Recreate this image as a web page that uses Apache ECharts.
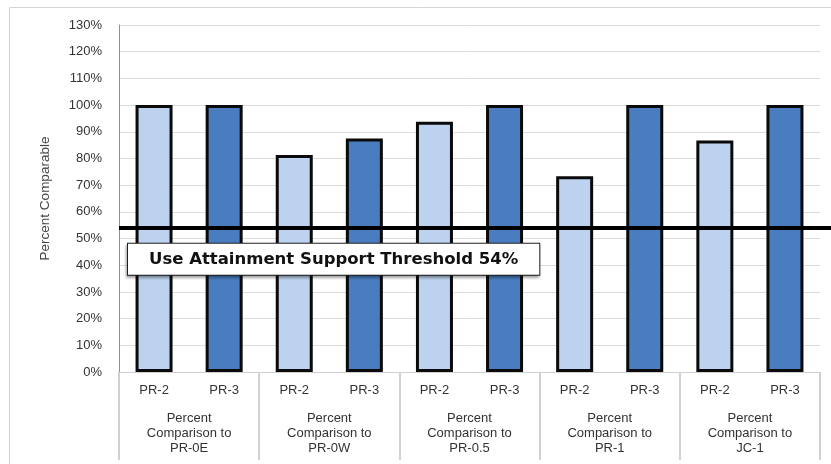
<!DOCTYPE html>
<html>
<head>
<meta charset="utf-8">
<script src="https://cdn.jsdelivr.net/npm/echarts@6/dist/echarts.min.js"></script>
<style>
  html, body { margin: 0; padding: 0; background: #fff; }
  #chart { width: 831px; height: 464px; }
</style>
</head>
<body>
<div id="chart"></div>
<script>
// Sub-categories (one bar each) and their comparison groups
const sites = ['PR-2', 'PR-3', 'PR-2', 'PR-3', 'PR-2', 'PR-3', 'PR-2', 'PR-3', 'PR-2', 'PR-3'];
const groups = [
  'Percent\nComparison to\nPR-0E',
  'Percent\nComparison to\nPR-0W',
  'Percent\nComparison to\nPR-0.5',
  'Percent\nComparison to\nPR-1',
  'Percent\nComparison to\nJC-1'
];
// Percent comparable per bar, in the same order as `sites`
const percentComparable = [100, 100, 81.3, 87.5, 93.8, 100, 73.3, 100, 86.7, 100];
const threshold = 54;
const yTicks = { min: 0, max: 130, step: 10 };

const colorPR2 = '#bcd2ee';
const colorPR3 = '#4a7dbf';

const chart = echarts.init(document.getElementById('chart'), null, { renderer: 'canvas' });

const font = 'Liberation Sans, Arial, sans-serif';

chart.setOption({
  animation: false,
  graphic: [{
    type: 'rect',
    shape: { x: 9.5, y: 7.5, width: 900, height: 600 },
    style: { fill: 'none', stroke: '#d4d4d4', lineWidth: 1 },
    silent: true
  }],
  grid: [
    { left: 119, right: 11, top: 25, bottom: 92 },
    { left: 119, right: 0, top: 25, bottom: 92 }
  ],
  xAxis: [
    {
      type: 'category', gridIndex: 0, data: sites,
      axisLine: { lineStyle: { color: '#d0d0d0', width: 1 } },
      axisTick: { show: false },
      axisLabel: { color: '#333', fontSize: 13, fontFamily: font, margin: 12 }
    },
    {
      type: 'category', gridIndex: 0, data: groups, position: 'bottom',
      axisLine: { show: false },
      axisTick: { show: true, length: 88, lineStyle: { color: '#d0d0d0', width: 2 } },
      axisLabel: { color: '#333', fontSize: 13, fontFamily: font, margin: 39, lineHeight: 15 }
    },
    { type: 'value', gridIndex: 1, min: 0, max: 1, show: false }
  ],
  yAxis: [
    {
      type: 'value', gridIndex: 0, min: yTicks.min, max: yTicks.max, interval: yTicks.step,
      name: 'Percent Comparable', nameLocation: 'middle', nameGap: 67,
      nameTextStyle: { color: '#444', fontSize: 13.5, fontFamily: font },
      axisLine: { show: true, lineStyle: { color: '#7f93ad', width: 1 } },
      axisTick: { show: false },
      splitLine: { lineStyle: { color: '#dcdcdc', width: 1 } },
      axisLabel: { color: '#333', fontSize: 13, fontFamily: font, margin: 17, formatter: '{value}%' }
    },
    { type: 'value', gridIndex: 1, min: yTicks.min, max: yTicks.max, show: false }
  ],
  series: [
    {
      type: 'bar',
      xAxisIndex: 0, yAxisIndex: 0,
      barWidth: 37,
      data: percentComparable.map((v, i) => ({
        value: v,
        itemStyle: { color: sites[i] === 'PR-2' ? colorPR2 : colorPR3 }
      })),
      itemStyle: { borderColor: '#0a0a0a', borderWidth: 3 },
      z: 2
    },
    {
      type: 'scatter',
      xAxisIndex: 2, yAxisIndex: 1,
      data: [],
      z: 5,
      markLine: {
        silent: true,
        symbol: ['none', 'none'],
        lineStyle: { color: '#000', width: 4, type: 'solid' },
        data: [{ yAxis: threshold }],
        label: {
          show: true,
          position: 'insideStartBottom',
          distance: [9, 16],
          formatter: 'Use Attainment Support Threshold ' + threshold + '%',
          fontFamily: 'DejaVu Sans, Verdana, sans-serif',
          fontWeight: 'bold',
          fontSize: 16.5,
          color: '#111',
          backgroundColor: '#fff',
          borderColor: '#222',
          borderWidth: 1,
          padding: [7, 21, 7, 21],
          shadowColor: 'rgba(0,0,0,0.35)',
          shadowBlur: 3,
          shadowOffsetX: -1,
          shadowOffsetY: 2
        }
      }
    }
  ]
});
</script>
</body>
</html>
